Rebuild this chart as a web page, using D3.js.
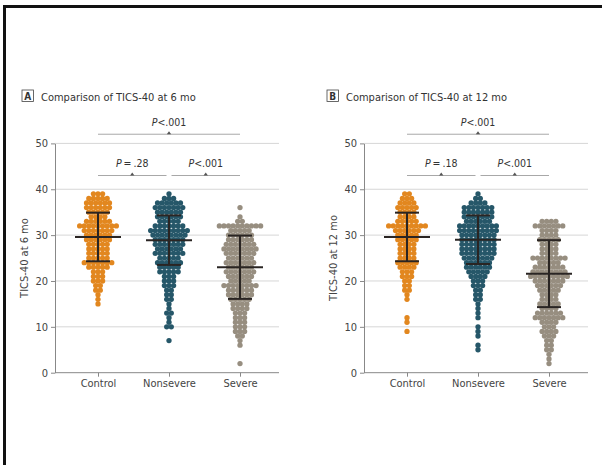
<!DOCTYPE html>
<html>
<head>
<meta charset="utf-8">
<script src="https://cdn.jsdelivr.net/npm/d3@7"></script>
<style>
  body { margin: 0; background: #fff; }
  text { font-family: "Liberation Sans Narrow", "DejaVu Sans Condensed", "Open Sans", sans-serif; }
</style>
</head>
<body>
<div id="chart"></div>
<script>
// groups, tick values
const groups = ["Control", "Nonsevere", "Severe"];
const yTicks = [0, 10, 20, 30, 40, 50];

// number of patients at each TICS-40 score (index = score 0..39+)
const control6 = [0,0,0,0,0,0,0,0,0,0, 0,0,0,0,0,1,1,1,2,2, 3,3,3,5,7,5,5,5,5,6, 6,7,9,6,4,5,6,6,5,3];
const nonsevere6 = [0,0,0,0,0,0,0,1,0,0, 2,1,1,2,1,1,2,2,2,3, 3,3,5,5,6,5,7,6,7,7, 8,9,7,5,6,6,7,6,3,1];
const severe6 = [0,0,1,0,0,0,1,1,2,3, 3,3,3,3,4,4,5,6,6,8, 5,6,7,6,7,6,7,8,7,6, 6,5,10,2,1,0,1];

const control12 = [0,0,0,0,0,0,0,0,0,1, 0,1,1,0,0,0,1,1,2,2, 2,3,3,4,5,4,4,4,4,5, 5,6,9,5,4,4,5,4,3,2];
const nonsevere12 = [0,0,0,0,0,1,1,0,1,1, 1,0,1,1,1,1,2,2,2,3, 3,4,5,6,6,7,8,8,8,8, 8,9,9,6,7,7,7,4,2,1];
const severe12 = [0,0,1,1,1,2,2,2,3,4, 3,4,7,6,4,5,4,4,5,6, 7,9,8,7,5,8,4,4,4,5, 4,4,7,4];

// mean and SD for each group
const means6 = [29.6, 28.9, 23.0];
const sds6 = [5.3, 5.4, 6.9];
const means12 = [29.6, 29.0, 21.6];
const sds12 = [5.3, 5.3, 7.3];

// pairwise comparisons
const pvals6 = ["\u2009=\u2009.28", "<.001", "<.001"];
const pvals12 = ["\u2009=\u2009.18", "<.001", "<.001"];

const colors = ["#E2871F", "#265769", "#978E80"];

const panels = [
  { letter: "A", title: "Comparison of TICS-40 at 6 mo", ylabel: "TICS-40 at 6 mo",
    counts: [control6, nonsevere6, severe6], means: means6, sds: sds6, pvals: pvals6,
    left: 55, boxX: 22 },
  { letter: "B", title: "Comparison of TICS-40 at 12 mo", ylabel: "TICS-40 at 12 mo",
    counts: [control12, nonsevere12, severe12], means: means12, sds: sds12, pvals: pvals12,
    left: 364, boxX: 327 }
];

const width = 602, height = 465;
const plotW = 224;

const svg = d3.select("#chart").append("svg")
    .attr("width", width)
    .attr("height", height);

// outer frame (left and top edge)
svg.append("path")
    .attr("d", `M4.5,${height} V6.5 H${width}`)
    .attr("fill", "none")
    .attr("stroke", "#111")
    .attr("stroke-width", 3);

const y = d3.scaleLinear().domain([0, 50]).range([372.7, 143.4]);
const step = y(0) - y(1);

panels.forEach(p => {
    const g = svg.append("g").attr("transform", `translate(${p.left},0)`);
    const x = d3.scalePoint().domain(groups).range([43, 185]);

    // title with boxed letter
    const t = svg.append("g");
    t.append("rect")
        .attr("x", p.boxX).attr("y", 90)
        .attr("width", 11.5).attr("height", 11.5)
        .attr("fill", "none").attr("stroke", "#444").attr("stroke-width", 0.8);
    t.append("text")
        .attr("x", p.boxX + 5.75).attr("y", 99.8)
        .attr("text-anchor", "middle")
        .attr("font-size", 10).attr("font-weight", "bold").attr("fill", "#333")
        .text(p.letter);
    t.append("text")
        .attr("x", p.boxX + 19).attr("y", 100.5)
        .attr("font-size", 11).attr("fill", "#333")
        .text(p.title);

    // gridlines
    g.append("g").selectAll("line")
        .data(yTicks.filter(d => d > 0))
        .join("line")
        .attr("x1", 0).attr("x2", plotW)
        .attr("y1", d => y(d)).attr("y2", d => y(d))
        .attr("stroke", "#d6d6d6").attr("stroke-width", 1);

    // baseline
    g.append("line")
        .attr("x1", 0).attr("x2", plotW)
        .attr("y1", y(0)).attr("y2", y(0))
        .attr("stroke", "#888").attr("stroke-width", 1);

    // y axis
    g.append("g")
        .call(d3.axisLeft(y).tickValues(yTicks).tickSize(4).tickSizeOuter(0))
        .call(a => a.select(".domain").attr("stroke", "#888"))
        .call(a => a.selectAll(".tick line").attr("stroke", "#888"))
        .call(a => a.selectAll(".tick text")
            .attr("font-size", 11).attr("fill", "#444")
            .attr("font-family", null));

    // x axis
    g.append("g")
        .attr("transform", `translate(0,${y(0)})`)
        .call(d3.axisBottom(x).tickSize(4))
        .call(a => a.select(".domain").remove())
        .call(a => a.selectAll(".tick line").attr("stroke", "#888"))
        .call(a => a.selectAll(".tick text")
            .attr("font-size", 11).attr("fill", "#444")
            .attr("font-family", null));

    // y label
    g.append("text")
        .attr("transform", `translate(-27,${(y(0) + y(50)) / 2}) rotate(-90)`)
        .attr("text-anchor", "middle")
        .attr("font-size", 11).attr("fill", "#444")
        .text(p.ylabel);

    // dots
    groups.forEach((grp, gi) => {
        const pts = [];
        p.counts[gi].forEach((n, v) => {
            for (let i = 0; i < n; i++) pts.push({ v: v, off: i - (n - 1) / 2 });
        });
        g.append("g").selectAll("circle")
            .data(pts)
            .join("circle")
            .attr("cx", d => x(grp) + d.off * step)
            .attr("cy", d => y(d.v))
            .attr("r", 2.65)
            .attr("fill", colors[gi]);
    });

    // mean and SD bars
    groups.forEach((grp, gi) => {
        const cx = x(grp), m = p.means[gi], s = p.sds[gi];
        const eb = g.append("g").attr("stroke", "#2a2523").attr("stroke-width", 2);
        eb.append("line").attr("x1", cx).attr("x2", cx).attr("y1", y(m - s)).attr("y2", y(m + s));
        eb.append("line").attr("x1", cx - 23).attr("x2", cx + 23).attr("y1", y(m)).attr("y2", y(m));
        [m - s, m + s].forEach(v => {
            eb.append("line").attr("x1", cx - 12).attr("x2", cx + 12).attr("y1", y(v)).attr("y2", y(v));
        });
    });

    // comparison brackets
    const brackets = [
        { a: 0, b: 1, level: 43, gapL: 0, gapR: 2.5 },
        { a: 1, b: 2, level: 43, gapL: 2.5, gapR: 0 },
        { a: 0, b: 2, level: 52, gapL: 0, gapR: 0 }
    ];
    brackets.forEach((br, i) => {
        const x1 = x(groups[br.a]) + br.gapL, x2 = x(groups[br.b]) - br.gapR;
        const mid = (x1 + x2) / 2, yy = y(br.level);
        g.append("line")
            .attr("x1", x1).attr("x2", x2).attr("y1", yy).attr("y2", yy)
            .attr("stroke", "#a8a8a8").attr("stroke-width", 1);
        g.append("path")
            .attr("d", `M${mid - 2.2},${yy} L${mid + 2.2},${yy} L${mid},${yy - 3} Z`)
            .attr("fill", "#555");
        const txt = g.append("text")
            .attr("x", mid).attr("y", yy - 8.5)
            .attr("text-anchor", "middle")
            .attr("font-size", 10.5).attr("fill", "#333");
        txt.append("tspan").attr("font-style", "italic").text("P");
        txt.append("tspan").text(p.pvals[i]);
    });
});
</script>
</body>
</html>
